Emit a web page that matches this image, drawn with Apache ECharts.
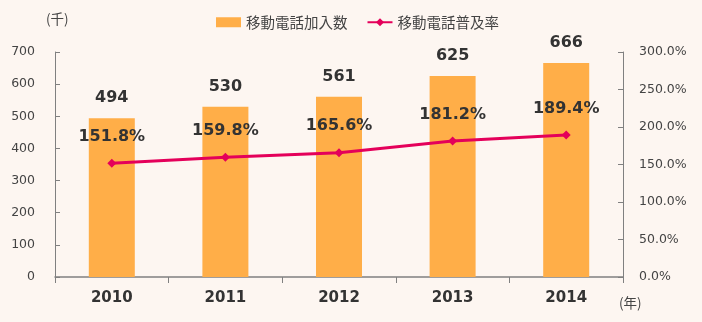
<!DOCTYPE html>
<html>
<head>
<meta charset="utf-8">
<script src="https://cdn.jsdelivr.net/npm/echarts@6/dist/echarts.min.js"></script>
<style>
  html, body { margin: 0; padding: 0; background: #fdf6f1; }
  #chart { width: 702px; height: 322px; }
</style>
</head>
<body>
<div id="chart"></div>
<script>
// Mobile phone subscriptions (thousands) and penetration rate (%)
const years = ['2010', '2011', '2012', '2013', '2014'];
const subscribers = [494, 530, 561, 625, 666];
const penetration = [151.8, 159.8, 165.6, 181.2, 189.4];
const seriesNames = ['移動電話加入数', '移動電話普及率'];
const unitLeft = '(千)';
const unitX = '(年)';

const CJK = '"Noto Sans CJK JP", sans-serif';
const NUM = '"DejaVu Sans", "Noto Sans CJK JP", sans-serif';
const chart = echarts.init(document.getElementById('chart'));

chart.setOption({
  backgroundColor: '#fdf6f1',
  animation: false,
  legend: {
    top: 10,
    left: 211,
    itemGap: 19,
    itemWidth: 25,
    itemHeight: 10,
    textStyle: { fontSize: 14.5, color: '#444', fontFamily: CJK },
    data: [
      { name: seriesNames[0], icon: 'rect' },
      { name: seriesNames[1] }
    ]
  },
  graphic: [
    { type: 'text', left: 46, top: 12,
      style: { text: unitLeft, font: '13.5px ' + CJK, fill: '#444' } },
    { type: 'text', left: 619, top: 296,
      style: { text: unitX, font: '13.5px ' + CJK, fill: '#444' } }
  ],
  grid: { left: 55, right: 79, top: 52, bottom: 45 },
  xAxis: {
    type: 'category',
    data: years,
    axisLine: { lineStyle: { color: '#808080', width: 1.5 } },
    axisTick: { show: true, length: 6, lineStyle: { color: '#808080' } },
    axisLabel: { fontSize: 15, fontWeight: 'bold', color: '#333', margin: 14, fontFamily: NUM }
  },
  yAxis: [
    {
      type: 'value',
      min: 0, max: 700, interval: 100,
      axisLine: { show: true, lineStyle: { color: '#808080' } },
      axisTick: { show: true, inside: true, length: 5, lineStyle: { color: '#808080' } },
      splitLine: { show: false },
      axisLabel: { fontSize: 12.5, color: '#444', margin: 20, fontFamily: NUM }
    },
    {
      type: 'value',
      min: 0, max: 300, interval: 50,
      position: 'right',
      axisLine: { show: true, lineStyle: { color: '#808080' } },
      axisTick: { show: true, inside: true, length: 5, lineStyle: { color: '#808080' } },
      splitLine: { show: false },
      axisLabel: {
        fontSize: 12.5, color: '#444', margin: 16, fontFamily: NUM,
        formatter: v => v.toFixed(1) + '%'
      }
    }
  ],
  series: [
    {
      name: seriesNames[0],
      type: 'bar',
      data: subscribers,
      barWidth: 46,
      itemStyle: { color: '#ffae48' },
      label: {
        show: true, position: 'top', distance: 12,
        fontSize: 16, fontWeight: 'bold', color: '#333', fontFamily: NUM
      }
    },
    {
      name: seriesNames[1],
      type: 'line',
      yAxisIndex: 1,
      data: penetration,
      symbol: 'diamond',
      symbolSize: 9,
      lineStyle: { color: '#e4005a', width: 3 },
      itemStyle: { color: '#e4005a' },
      label: {
        show: true, position: 'top', distance: 14,
        fontSize: 16, fontWeight: 'bold', color: '#333', fontFamily: NUM,
        formatter: p => p.value.toFixed(1) + '%'
      }
    }
  ]
});
</script>
</body>
</html>
